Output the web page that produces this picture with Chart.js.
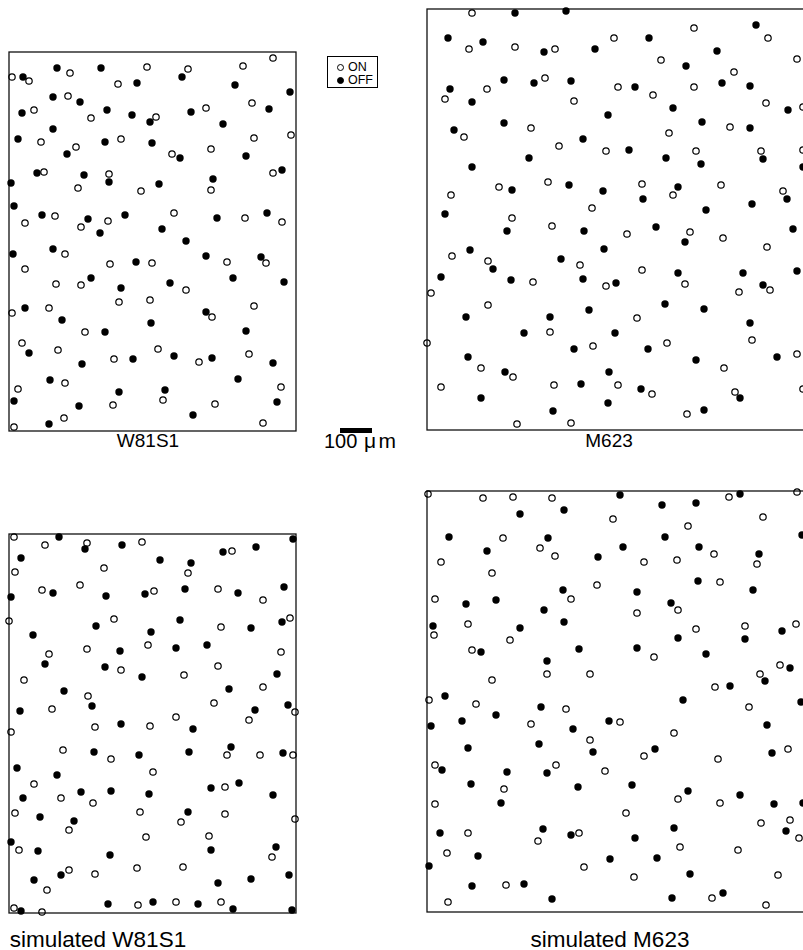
<!DOCTYPE html>
<html>
<head>
<meta charset="utf-8">
<title>ON / OFF cell mosaics</title>
<script src="https://cdn.jsdelivr.net/npm/chart.js@4.4.1/dist/chart.umd.min.js"></script>
<style>
  html, body { margin: 0; padding: 0; background: #fff; overflow: hidden; }
  #page { position: relative; width: 803px; height: 950px; overflow: hidden;
          font-family: "Liberation Sans", Arial, Helvetica, sans-serif; color: #000; }
  #page canvas { position: absolute; }
  .lbl { position: absolute; font-size: 19px; line-height: 20px; white-space: nowrap; transform: translateX(-50%); }
  .lbl.big { font-size: 22.5px; line-height: 24px; }
  #legend { position: absolute; left: 327px; top: 56px; width: 51px; height: 32px;
            border: 1px solid #000; box-sizing: border-box; }
  #legend .row { position: absolute; left: 0; font-size: 12.5px; line-height: 13px; }
  #legend .sym { position: absolute; left: 9px; width: 5px; height: 5px; border-radius: 50%;
                 border: 1px solid #000; box-sizing: content-box; }
  #legend .txt { position: absolute; left: 20px; top: 0; }
  #scalebar { position: absolute; left: 340px; top: 428px; width: 32px; height: 5px; background: #000; }
  .sb { position: absolute; font-size: 20px; line-height: 20px; white-space: nowrap; top: 431px; }
</style>
</head>
<body>
<div id="page">
  <div id="legend">
    <div class="row" style="top:4px"><span class="sym" style="top:3px"></span><span class="txt">ON</span></div>
    <div class="row" style="top:17px"><span class="sym" style="top:3px;background:#000"></span><span class="txt">OFF</span></div>
  </div>
  <div id="scalebar"></div>
  <div class="sb" style="left:324px">100</div>
  <div class="sb" style="left:364px;letter-spacing:2.5px;font-size:21px">&#956;m</div>
  <div class="lbl" style="left:148px;top:431px">W81S1</div>
  <div class="lbl" style="left:609px;top:431px">M623</div>
  <div class="lbl big" style="left:98px;top:928px">simulated W81S1</div>
  <div class="lbl big" style="left:610px;top:928px">simulated M623</div>
</div>
<script>
// Cell positions [x, y] within each sampled field, y measured from the top edge of the field.

// W81S1 field (287 x 379)
const w81s1On = [
  [3,25],[20,29],[61,21],[138,15],[179,17],[109,32],[234,14],[264,6],[59,44],[243,51],
  [25,58],[82,66],[147,65],[197,56],[32,90],[67,95],[112,87],[163,102],[202,97],[245,86],
  [282,83],[35,120],[100,122],[69,136],[132,139],[202,138],[264,121],[46,164],[16,171],[72,175],
  [99,169],[165,161],[236,166],[273,170],[56,202],[16,217],[101,212],[143,211],[218,210],[257,211],
  [47,232],[72,233],[177,238],[3,261],[40,256],[110,250],[141,248],[203,265],[245,254],[76,280],
  [13,291],[49,298],[105,307],[149,297],[190,310],[240,302],[56,331],[9,337],[154,348],[104,353],
  [206,352],[272,335],[5,375],[55,366],[254,371]
];
const w81s1Off = [
  [14,25],[48,16],[92,16],[173,25],[128,31],[226,33],[281,40],[44,45],[71,50],[13,61],
  [98,58],[123,63],[141,70],[182,60],[260,57],[214,72],[44,77],[9,87],[58,102],[96,90],
  [143,91],[171,106],[237,104],[28,121],[75,123],[100,130],[2,131],[150,132],[204,127],[273,118],
  [5,154],[33,163],[79,167],[91,181],[116,163],[153,177],[177,189],[208,166],[258,161],[4,202],
  [44,197],[127,210],[197,204],[252,205],[82,226],[112,236],[161,231],[224,226],[275,230],[16,256],
  [53,268],[142,271],[197,260],[96,280],[237,279],[20,301],[73,312],[124,307],[165,304],[203,306],
  [264,311],[41,328],[5,349],[110,340],[156,338],[70,354],[229,327],[268,350],[40,372],[184,363]
];

// M623 field (379 x 421)
const m623On = [
  [45,4],[42,40],[88,38],[128,40],[187,29],[267,19],[341,29],[234,51],[370,50],[307,63],
  [18,90],[60,80],[118,69],[147,92],[191,78],[226,86],[267,78],[339,94],[376,98],[37,128],
  [104,119],[132,137],[242,124],[303,118],[179,142],[269,142],[334,142],[376,141],[24,186],[72,178],
  [121,173],[215,175],[246,186],[294,176],[356,182],[165,199],[85,209],[125,217],[200,225],[263,223],
  [296,229],[340,238],[25,247],[61,252],[106,273],[153,256],[179,277],[215,261],[258,275],[312,283],
  [343,281],[4,284],[61,296],[210,309],[123,323],[0,334],[54,359],[166,337],[240,334],[325,331],
  [297,359],[370,345],[86,368],[14,378],[127,376],[191,376],[225,385],[308,383],[376,380],[90,415],
  [144,414],[260,405]
];
const m623Off = [
  [88,4],[139,2],[21,29],[56,33],[117,43],[168,40],[222,29],[329,16],[290,42],[259,57],
  [23,80],[45,93],[77,71],[107,74],[144,72],[208,78],[246,99],[295,74],[323,77],[361,101],
  [181,106],[27,121],[77,114],[156,130],[275,113],[323,119],[202,141],[336,150],[376,158],[45,158],
  [102,149],[239,149],[274,155],[85,181],[142,176],[176,182],[216,190],[251,178],[360,190],[325,195],
  [279,201],[18,205],[80,222],[157,222],[229,218],[258,233],[366,220],[43,241],[66,260],[14,268],
  [84,271],[134,250],[177,240],[156,270],[189,274],[251,264],[316,264],[336,276],[370,262],[39,308],
  [123,308],[162,301],[238,295],[277,300],[323,314],[97,324],[188,324],[41,348],[147,340],[221,340],
  [269,351],[350,348],[78,363],[182,363],[154,375],[214,380],[313,389],[54,389],[126,402],[181,394],
  [277,401]
];

// simulated W81S1 field (287 x 379)
const simW81s1On = [
  [5,3],[36,11],[78,9],[133,8],[223,17],[6,38],[95,34],[179,39],[33,56],[71,51],
  [145,57],[209,55],[254,66],[0,87],[105,85],[212,93],[281,84],[40,120],[78,115],[139,111],
  [272,118],[112,136],[175,141],[209,132],[15,146],[79,162],[254,153],[43,175],[205,169],[286,178],
  [167,183],[240,186],[141,192],[86,193],[2,198],[54,216],[102,225],[218,221],[251,221],[284,221],
  [25,250],[144,238],[52,264],[84,269],[216,253],[6,279],[60,296],[131,278],[172,288],[216,280],
  [286,285],[10,316],[137,303],[200,302],[263,323],[128,334],[174,333],[60,336],[86,340],[38,356],
  [5,374],[33,378],[129,371],[167,368],[212,368]
];
const simW81s1Off = [
  [50,3],[76,15],[113,11],[214,18],[247,13],[284,5],[12,24],[151,26],[182,29],[44,59],
  [97,62],[136,60],[176,55],[229,59],[275,53],[2,63],[24,101],[87,92],[142,98],[171,86],
  [242,94],[273,88],[36,130],[111,117],[167,114],[198,111],[96,133],[133,143],[268,140],[55,157],
  [83,172],[220,155],[11,177],[246,176],[279,171],[112,190],[184,195],[85,218],[130,221],[180,218],
  [222,213],[274,219],[8,234],[48,241],[14,264],[72,258],[102,257],[140,260],[202,254],[230,249],
  [264,261],[31,283],[65,287],[179,278],[2,308],[29,317],[202,316],[267,313],[101,321],[52,341],
  [25,346],[209,349],[242,345],[280,341],[12,377],[99,370],[144,368],[189,370],[224,375],[283,376]
];

// simulated M623 field (379 x 421)
const simM623On = [
  [1,3],[56,7],[86,6],[125,7],[302,6],[370,1],[186,28],[261,35],[336,26],[76,47],
  [113,57],[287,63],[330,73],[14,71],[128,65],[217,71],[250,69],[65,82],[170,94],[293,91],
  [144,108],[8,108],[251,119],[210,122],[41,133],[269,138],[318,135],[369,133],[7,144],[83,149],
  [45,159],[227,166],[120,183],[163,183],[65,189],[353,174],[333,183],[288,196],[2,209],[49,213],
  [139,218],[322,216],[104,233],[193,231],[247,242],[163,249],[217,265],[291,268],[361,258],[8,274],
  [129,274],[178,280],[77,298],[8,313],[199,322],[251,308],[293,312],[41,342],[111,350],[152,342],
  [253,356],[334,332],[363,329],[372,347],[311,359],[20,362],[157,376],[207,386],[351,384],[79,394],
  [21,411],[285,407],[339,414]
];
const simM623Off = [
  [193,4],[235,14],[269,12],[313,3],[93,23],[137,19],[22,46],[121,47],[238,46],[196,56],
  [272,56],[332,63],[375,44],[60,60],[171,66],[271,90],[136,99],[210,101],[326,99],[39,113],
  [69,109],[117,119],[244,112],[6,135],[93,137],[137,131],[355,140],[251,147],[318,148],[54,161],
  [152,158],[210,157],[279,163],[120,170],[363,177],[338,190],[303,195],[18,205],[256,209],[374,211],
  [114,216],[4,235],[35,230],[69,224],[146,238],[182,230],[340,234],[41,257],[112,253],[166,261],
  [228,258],[345,262],[15,279],[80,281],[120,282],[44,293],[151,296],[205,294],[74,312],[261,300],
  [313,304],[347,313],[376,312],[13,342],[116,338],[144,344],[208,347],[247,337],[359,340],[51,365],
  [2,375],[183,368],[230,367],[263,383],[45,395],[97,393],[125,408],[245,407],[296,402]
];

// Field frames on the page: left, top, width, height (px); data units match pixels.
const fields = [
  { left: 9,   top: 52,  w: 287, h: 379, on: w81s1On,    off: w81s1Off },
  { left: 427, top: 9,   w: 379, h: 421, on: m623On,     off: m623Off },
  { left: 9,   top: 534, w: 287, h: 379, on: simW81s1On, off: simW81s1Off },
  { left: 427, top: 491, w: 379, h: 421, on: simM623On,  off: simM623Off }
];

// Draws the rectangular outline of the sampled field under the cells.
const framePlugin = {
  id: 'fieldFrame',
  beforeDatasetsDraw(chart) {
    const { ctx, chartArea: a } = chart;
    ctx.save();
    ctx.lineWidth = 1.3;
    ctx.strokeStyle = '#111';
    ctx.strokeRect(a.left, a.top, a.right - a.left, a.bottom - a.top);
    ctx.restore();
  }
};

const page = document.getElementById('page');
const PAD = 8;
const toXY = pts => pts.map(([x, y]) => ({ x, y }));

fields.forEach(f => {
  const cv = document.createElement('canvas');
  cv.width = f.w + 2 * PAD;
  cv.height = f.h + 2 * PAD;
  cv.style.left = (f.left - PAD) + 'px';
  cv.style.top = (f.top - PAD) + 'px';
  page.appendChild(cv);
  new Chart(cv, {
    type: 'scatter',
    data: {
      datasets: [
        { label: 'ON', data: toXY(f.on), pointStyle: 'circle', pointRadius: 3.2, pointBorderWidth: 1.2,
          borderColor: '#000', backgroundColor: 'rgba(0,0,0,0)', clip: false },
        { label: 'OFF', data: toXY(f.off), pointStyle: 'circle', pointRadius: 3.7, pointBorderWidth: 0,
          borderColor: '#000', backgroundColor: '#000', clip: false }
      ]
    },
    options: {
      responsive: false,
      animation: false,
      devicePixelRatio: 1,
      events: [],
      layout: { padding: PAD },
      plugins: { legend: { display: false }, tooltip: { enabled: false }, title: { display: false } },
      scales: {
        x: { type: 'linear', min: 0, max: f.w, display: false },
        y: { type: 'linear', min: 0, max: f.h, reverse: true, display: false }
      }
    },
    plugins: [framePlugin]
  });
});
</script>
</body>
</html>
